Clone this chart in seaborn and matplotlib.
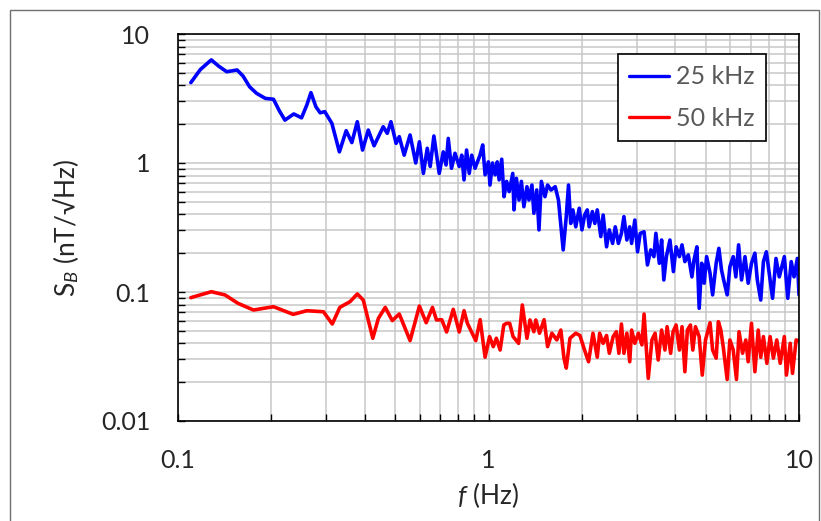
import matplotlib
matplotlib.use("Agg")
import matplotlib.pyplot as plt
import seaborn as sns
from matplotlib.patches import Rectangle
from matplotlib.ticker import FixedLocator, LogLocator, NullFormatter, FuncFormatter

# 25 kHz 曲線 (頻率 Hz, S_B nT/√Hz)
blue_f = [0.11, 0.118, 0.128, 0.135, 0.1435, 0.155, 0.162, 0.17, 0.179, 0.191,
          0.203, 0.212, 0.221, 0.236, 0.25, 0.26, 0.268, 0.278, 0.287, 0.297,
          0.313, 0.331, 0.348, 0.363, 0.378, 0.393, 0.41, 0.428, 0.458, 0.472,
          0.485, 0.504, 0.516, 0.535, 0.559, 0.583, 0.599, 0.617, 0.635, 0.649,
          0.667, 0.694, 0.715, 0.73, 0.742, 0.76, 0.78, 0.805, 0.82, 0.834,
          0.85, 0.867, 0.883, 0.905, 0.939, 0.958, 0.975, 0.999, 1.011, 1.03,
          1.05, 1.067, 1.082, 1.103, 1.122, 1.144, 1.166, 1.197, 1.208, 1.23,
          1.254, 1.276, 1.30, 1.33, 1.35, 1.38, 1.40, 1.43, 1.454, 1.48,
          1.52, 1.55, 1.59, 1.64, 1.68, 1.71, 1.74, 1.78, 1.81, 1.84,
          1.87, 1.91, 1.96, 2.0, 2.04, 2.08, 2.11, 2.16, 2.20, 2.24,
          2.30, 2.34, 2.40, 2.45, 2.51, 2.56, 2.62, 2.68, 2.73, 2.79,
          2.85, 2.89, 2.96, 3.02, 3.08, 3.17, 3.25, 3.33, 3.41, 3.46,
          3.55, 3.61, 3.67, 3.74, 3.84, 3.94, 4.02, 4.12, 4.20, 4.29,
          4.40, 4.52, 4.59, 4.69, 4.77, 4.86, 4.95, 5.04, 5.17, 5.27,
          5.41, 5.52, 5.63, 5.72, 5.87, 5.99, 6.14, 6.26, 6.39, 6.53,
          6.70, 6.86, 7.03, 7.21, 7.34, 7.53, 7.68, 7.85, 8.05, 8.22,
          8.43, 8.64, 8.97, 9.20, 9.44, 9.64, 9.88, 10.0]
blue_s = [4.2, 5.3, 6.3, 5.65, 5.1, 5.26, 4.72, 3.9, 3.47, 3.17,
          3.12, 2.54, 2.15, 2.4, 2.24, 2.82, 3.51, 2.73, 2.45, 2.5,
          2.03, 1.22, 1.78, 1.44, 2.09, 1.26, 1.80, 1.36, 1.91, 1.70,
          2.09, 1.42, 1.60, 1.15, 1.65, 1.0, 1.46, 0.83, 1.30, 0.94,
          1.62, 0.83, 1.22, 0.965, 1.55, 0.91, 1.19, 0.94, 1.15, 0.74,
          1.26, 0.83, 1.15, 0.91, 1.15, 1.38, 0.81, 1.02, 0.675, 1.0,
          0.81, 1.02, 0.74, 1.07, 0.548, 0.72, 0.60, 0.83, 0.433, 0.76,
          0.516, 0.72, 0.458, 0.655, 0.516, 0.675, 0.408, 0.618, 0.303, 0.72,
          0.548, 0.675, 0.618, 0.655, 0.516, 0.33, 0.212, 0.384, 0.675, 0.34,
          0.433, 0.32, 0.446, 0.303, 0.395, 0.433, 0.32, 0.42, 0.34, 0.433,
          0.269, 0.395, 0.224, 0.303, 0.238, 0.32, 0.238, 0.285, 0.384, 0.253,
          0.32, 0.238, 0.361, 0.205, 0.285, 0.293, 0.162, 0.212, 0.188, 0.285,
          0.167, 0.253, 0.124, 0.188, 0.253, 0.144, 0.224, 0.188, 0.232, 0.172,
          0.194, 0.131, 0.177, 0.224, 0.0748, 0.167, 0.117, 0.188, 0.140, 0.095,
          0.167, 0.218, 0.148, 0.124, 0.095, 0.157, 0.188, 0.131, 0.232, 0.124,
          0.188, 0.117, 0.167, 0.20, 0.124, 0.0867, 0.172, 0.205, 0.131, 0.0894,
          0.182, 0.131, 0.188, 0.0894, 0.172, 0.131, 0.182, 0.095]

# 50 kHz 曲線
red_f = [0.11, 0.128, 0.1417, 0.156, 0.175, 0.203, 0.235, 0.26, 0.294, 0.314,
         0.332, 0.358, 0.378, 0.395, 0.424, 0.442, 0.465, 0.49, 0.516, 0.559,
         0.599, 0.63, 0.66, 0.68, 0.707, 0.733, 0.77, 0.805, 0.834, 0.855,
         0.91, 0.94, 0.975, 1.008, 1.036, 1.06, 1.09, 1.12, 1.144, 1.17,
         1.20, 1.25, 1.285, 1.33, 1.36, 1.40, 1.42, 1.46, 1.51, 1.55,
         1.60, 1.66, 1.71, 1.75, 1.78, 1.83, 1.91, 1.97, 2.03, 2.10,
         2.17, 2.24, 2.28, 2.34, 2.40, 2.45, 2.52, 2.58, 2.63, 2.68,
         2.73, 2.79, 2.85, 2.89, 2.96, 3.04, 3.12, 3.17, 3.27, 3.36,
         3.44, 3.52, 3.61, 3.70, 3.76, 3.86, 3.93, 4.02, 4.12, 4.20,
         4.29, 4.37, 4.47, 4.55, 4.64, 4.77, 4.88, 5.0, 5.17, 5.27,
         5.41, 5.50, 5.60, 5.70, 5.87, 5.99, 6.14, 6.29, 6.41, 6.58,
         6.74, 6.86, 7.03, 7.21, 7.39, 7.53, 7.68, 7.88, 8.07, 8.27,
         8.48, 8.70, 8.97, 9.11, 9.37, 9.53, 9.79, 10.0]
red_s = [0.0904, 0.1005, 0.0949, 0.0817, 0.0725, 0.0769, 0.0671, 0.0716, 0.0703, 0.0565,
         0.076, 0.0841, 0.0965, 0.0867, 0.0438, 0.0625, 0.076, 0.060, 0.0675, 0.042,
         0.0778, 0.0578, 0.076, 0.0607, 0.061, 0.049, 0.0734, 0.049, 0.0716, 0.0572,
         0.042, 0.061, 0.0312, 0.0451, 0.0377, 0.0438, 0.0355, 0.0555, 0.0572, 0.0572,
         0.0451, 0.040, 0.0793, 0.0438, 0.0607, 0.0492, 0.0607, 0.0479, 0.061, 0.0377,
         0.0479, 0.0425, 0.0507, 0.0307, 0.0257, 0.0438, 0.0479, 0.046, 0.0366, 0.0288,
         0.0479, 0.0312, 0.0479, 0.040, 0.046, 0.0335, 0.0451, 0.0492, 0.0335, 0.0565,
         0.0335, 0.0479, 0.0288, 0.0507, 0.040, 0.0479, 0.0389, 0.0675, 0.0214, 0.0425,
         0.0479, 0.0297, 0.0507, 0.0355, 0.0538, 0.0335, 0.0492, 0.0555, 0.0355, 0.0538,
         0.0241, 0.0507, 0.0555, 0.0355, 0.0538, 0.0451, 0.0227, 0.0425, 0.0578, 0.0355,
         0.0307, 0.0589, 0.0507, 0.0377, 0.021, 0.0425, 0.0355, 0.021, 0.0492, 0.0335,
         0.0425, 0.0288, 0.0572, 0.0241, 0.0507, 0.0312, 0.0451, 0.028, 0.0451, 0.0307,
         0.0425, 0.028, 0.0451, 0.0227, 0.040, 0.0234, 0.0425, 0.0418]

series_labels = ["25 kHz", "50 kHz"]
series_colors = ["#0000ff", "#ff0000"]

x_ticks = [0.1, 1, 10]
y_ticks = [0.01, 0.1, 1, 10]

sns.set_style("ticks")
plt.rcParams["font.family"] = ["Lato", "DejaVu Sans"]
plt.rcParams["mathtext.fontset"] = "custom"
plt.rcParams["mathtext.rm"] = "Lato"
plt.rcParams["mathtext.it"] = "Lato:italic"

W, H = 821, 521
fig = plt.figure(figsize=(W / 100, H / 100), dpi=100)
ax = fig.add_axes([178 / W, 1 - 421 / H, (799 - 178) / W, (421 - 34) / H])

for fx, sy, lab, col in zip([blue_f, red_f], [blue_s, red_s], series_labels, series_colors):
    sns.lineplot(x=fx, y=sy, ax=ax, color=col, linewidth=2.6, label=lab, sort=False,
                 solid_joinstyle="round", solid_capstyle="round")

ax.set_xscale("log")
ax.set_yscale("log")
ax.set_xlim(0.1, 10)
ax.set_ylim(0.01, 10)

ax.xaxis.set_major_locator(FixedLocator(x_ticks))
ax.yaxis.set_major_locator(FixedLocator(y_ticks))
ax.xaxis.set_minor_locator(LogLocator(base=10, subs=range(2, 10)))
ax.yaxis.set_minor_locator(LogLocator(base=10, subs=range(2, 10)))
fmt = FuncFormatter(lambda v, p: f"{v:g}")
ax.xaxis.set_major_formatter(fmt)
ax.yaxis.set_major_formatter(fmt)
ax.xaxis.set_minor_formatter(NullFormatter())
ax.yaxis.set_minor_formatter(NullFormatter())

ax.grid(True, which="both", color="#c8c8c8", linewidth=1.1)
ax.set_axisbelow(True)
ax.tick_params(which="both", direction="in", length=5, width=1, color="black",
               top=False, right=False)
ax.tick_params(axis="y", which="major", pad=20, labelsize=18)
ax.tick_params(axis="x", which="major", pad=20, labelsize=18)
for sp in ax.spines.values():
    sp.set_visible(True)
    sp.set_color("black")
    sp.set_linewidth(1.2)

ax.set_xlabel(r"$\mathit{f}$ (Hz)", fontsize=19, labelpad=6)
ax.set_ylabel(r"S$_{\mathit{B}}$ (nT/√Hz)", fontsize=19, labelpad=14)

leg = ax.legend(loc="upper right", bbox_to_anchor=(0.947, 0.948), fontsize=18,
                frameon=True, fancybox=False, framealpha=1, edgecolor="black",
                handlelength=1.6, handletextpad=0.3, labelspacing=0.75,
                borderpad=0.45, borderaxespad=0)
leg.get_frame().set_linewidth(1.2)
for t in leg.get_texts():
    t.set_color("#595959")
for ln in leg.get_lines():
    ln.set_linewidth(2.4)

# 外框
fig.patches.append(Rectangle((10 / W, -0.02), (819 - 10) / W, (H - 10) / H + 0.02,
                             transform=fig.transFigure, fill=False,
                             edgecolor="#707070", linewidth=1))

fig.savefig("out.png", dpi=100)
